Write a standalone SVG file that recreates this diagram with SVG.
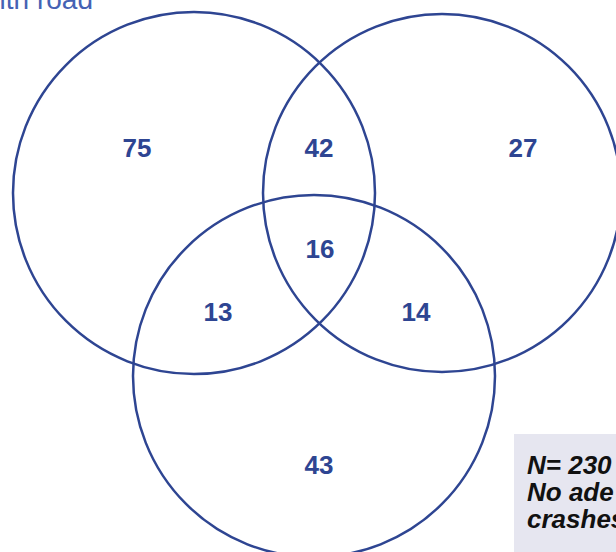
<svg xmlns="http://www.w3.org/2000/svg" width="616" height="552" viewBox="0 0 616 552">
<style>
.c{fill:none;stroke:#2e4592;stroke-width:2.5}
.n{font-family:"Liberation Sans",Arial,sans-serif;font-weight:bold;font-size:26px;fill:#2e4592;text-anchor:middle}
.t{font-family:"Liberation Sans",Arial,sans-serif;font-size:28px;fill:#4562b4}
.b{font-family:"Liberation Sans",Arial,sans-serif;font-weight:bold;font-style:italic;font-size:26px;fill:#111}
</style>
<rect width="616" height="552" fill="#fff"/>
<text class="t" x="93" y="9" text-anchor="end">ith road</text>
<g id="connectors"></g>
<g id="circleA"><circle class="c" cx="194" cy="193" r="181"/></g>
<g id="circleB"><circle class="c" cx="442" cy="193" r="179"/></g>
<g id="circleC"><circle class="c" cx="314" cy="376" r="181"/></g>
<g id="labels">
<text class="n" x="137" y="157">75</text>
<text class="n" x="319" y="157">42</text>
<text class="n" x="523" y="157">27</text>
<text class="n" x="320" y="258">16</text>
<text class="n" x="218" y="321">13</text>
<text class="n" x="416" y="321">14</text>
<text class="n" x="319" y="474">43</text>
</g>
<g id="note">
<rect x="514" y="434" width="110" height="130" fill="#e6e6f0"/>
<text class="b" x="527" y="474">N= 230</text>
<text class="b" x="527" y="501">No ade</text>
<text class="b" x="527" y="528">crashes</text>
</g>
</svg>
